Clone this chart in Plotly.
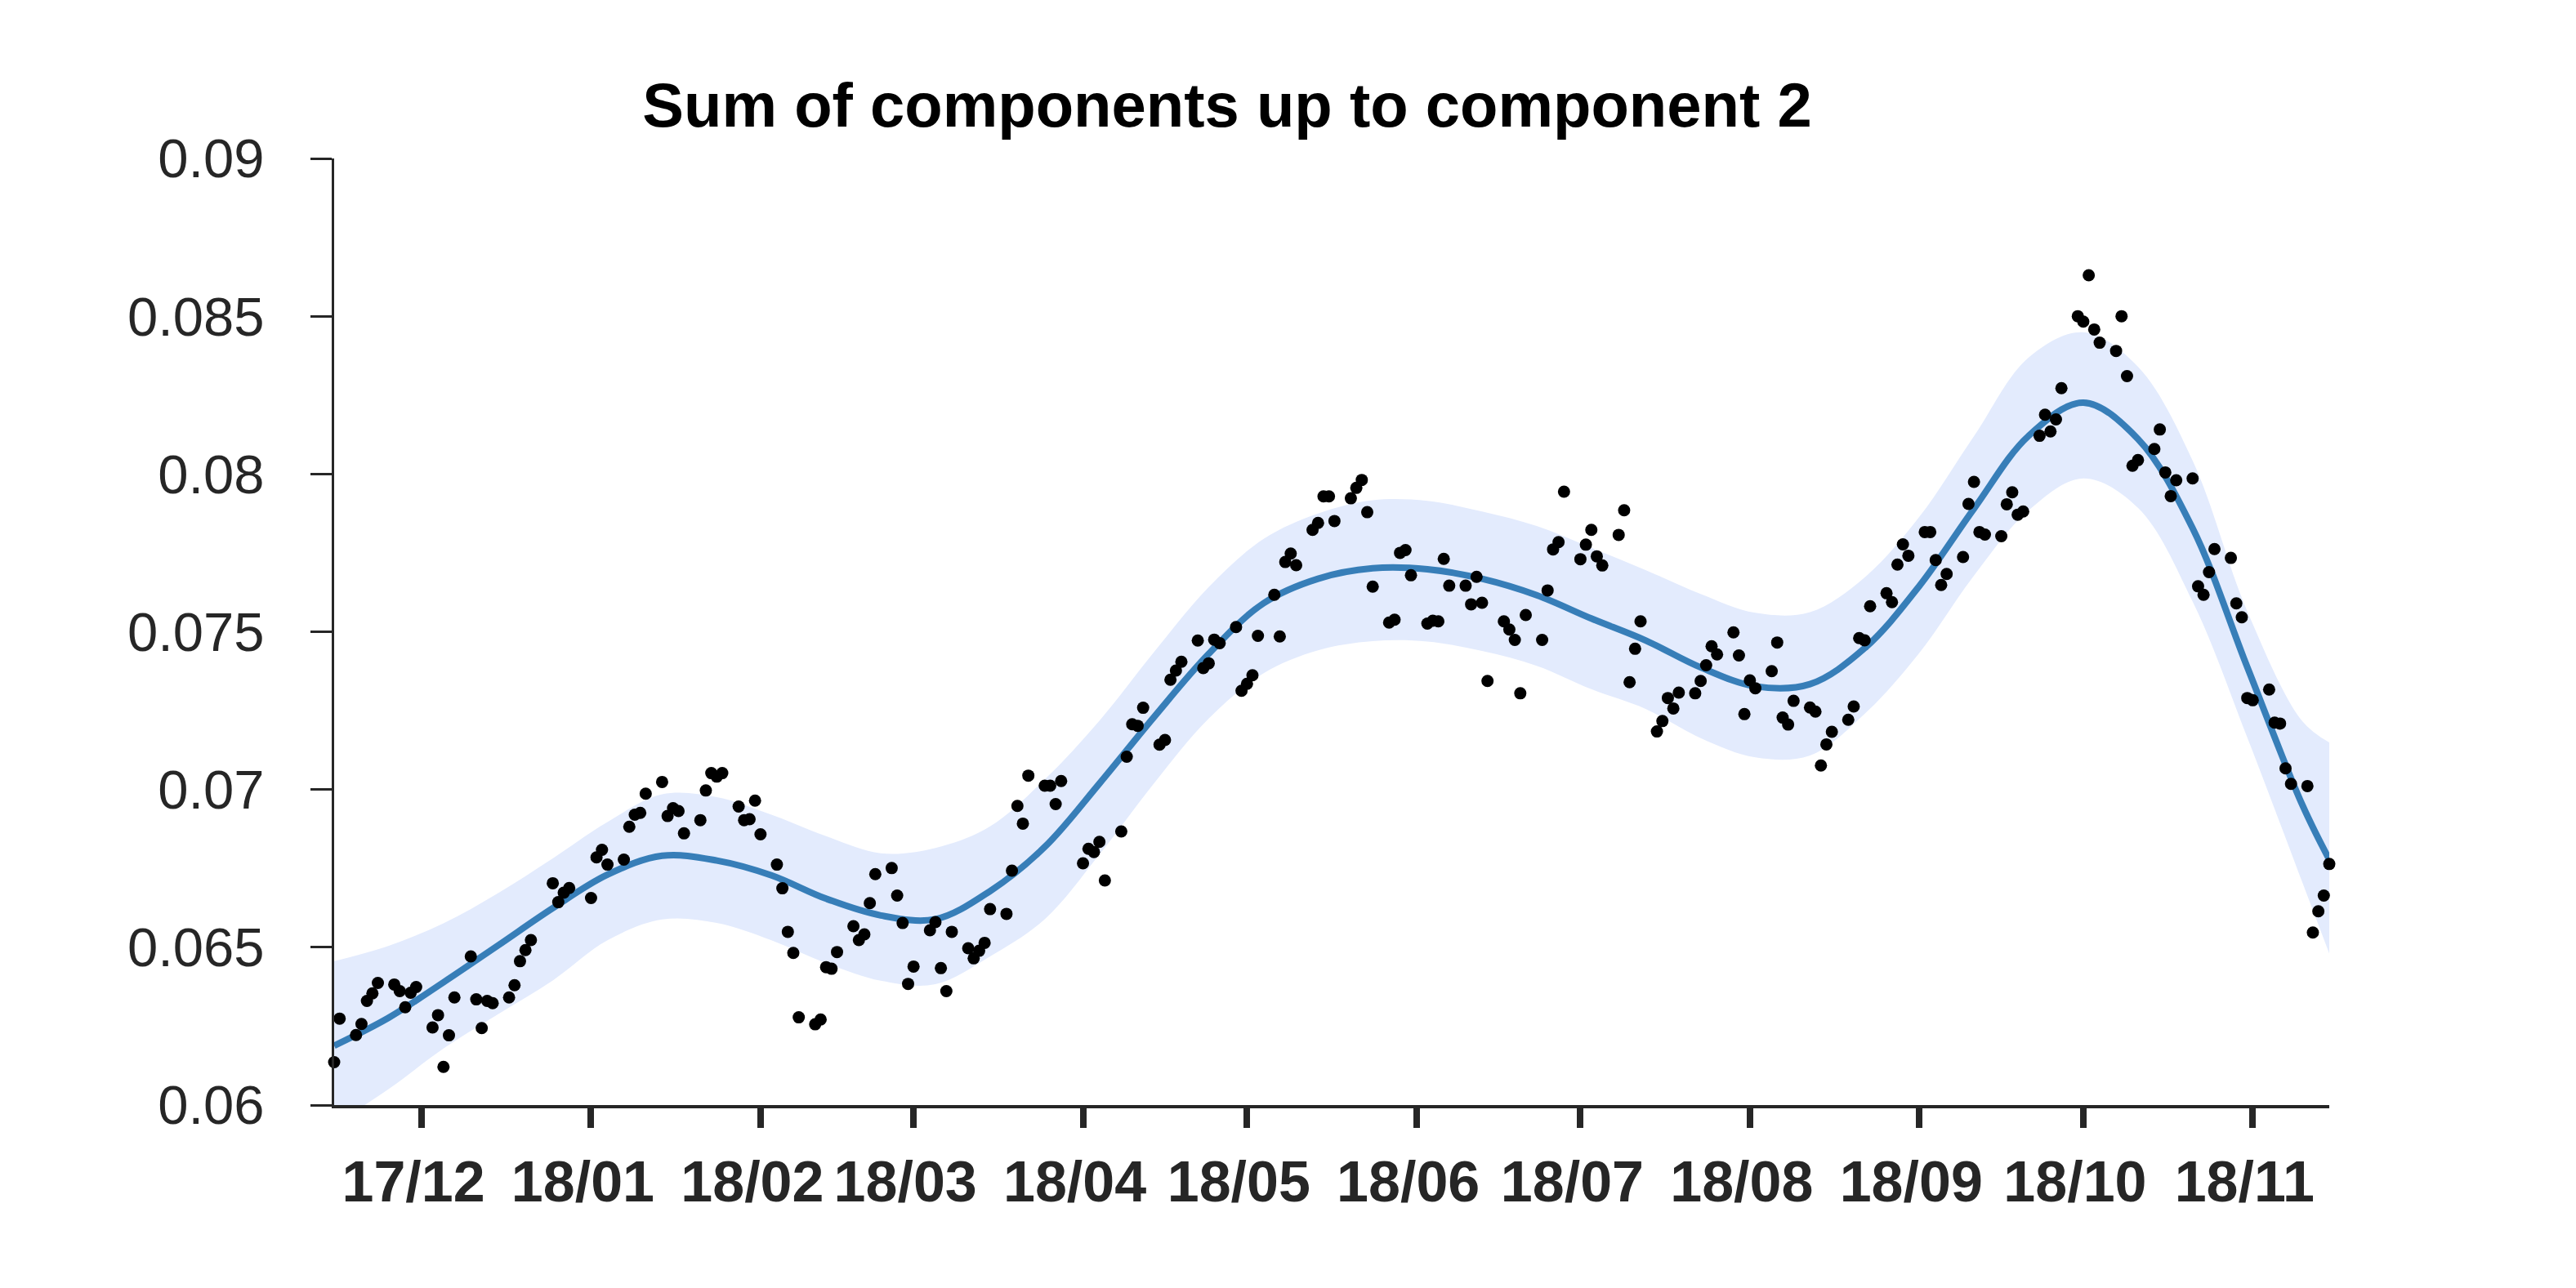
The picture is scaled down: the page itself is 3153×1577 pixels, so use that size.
import pandas as pd
import plotly.graph_objects as go

# ---------------- data ----------------
START_DATE = "2017-11-15"
END_DATE = "2018-11-15"

# observed points: day offset from START_DATE and value
obs_day = [
    0, 1, 4, 5, 6, 7, 8, 11, 12, 13, 14, 15, 18, 19, 20, 21, 22, 25, 26, 27, 28, 29,
    32, 33, 34, 35, 36, 40, 41, 42, 43, 47, 48, 49, 50, 53, 54, 55, 56, 57,
    60, 61, 62, 63, 64, 67, 68, 69, 70, 71, 74, 75, 76, 77, 78, 81, 82, 83, 84, 85,
    88, 89, 90, 91, 92, 95, 96, 97, 98, 99, 102, 103, 104, 105, 106,
    109, 110, 111, 112, 113, 116, 117, 118, 119, 120,
    123, 124, 125, 126, 127, 130, 131, 132, 133, 137, 138, 139, 140, 141,
    144, 145, 146, 147, 148, 151, 152, 153, 154, 155, 158, 159, 160, 161, 162,
    165, 166, 167, 168, 169, 172, 173, 174, 175, 176,
    179, 180, 181, 182, 183, 186, 187, 188, 189, 190, 193, 194, 195, 196, 197,
    200, 201, 202, 203, 204, 207, 208, 209, 210, 211, 214, 215, 216, 217, 218,
    221, 222, 223, 224, 225, 228, 229, 230, 231, 232, 235, 236, 237, 238, 239,
    242, 243, 244, 245, 246, 249, 250, 251, 252, 253, 256, 257, 258, 259, 260,
    263, 264, 265, 266, 267, 270, 271, 272, 273, 274, 277, 278, 279, 280, 281,
    284, 285, 286, 287, 288, 291, 292, 293, 294, 295, 298, 299, 300, 301, 302,
    305, 306, 307, 308, 309, 312, 313, 314, 315, 316, 319, 320, 321, 322, 323,
    326, 327, 328, 329, 330, 333, 334, 335, 336, 337, 340, 341, 342, 343, 344,
    347, 348, 349, 350, 351, 354, 355, 356, 357, 358, 361, 362, 363, 364, 365,
]
obs_val = [
    0.06136, 0.06274, 0.06222, 0.06257, 0.06330, 0.06354, 0.06387, 0.06382, 0.06361, 0.06310,
    0.06356, 0.06374, 0.06246, 0.06285, 0.06121, 0.06221, 0.06341, 0.06471, 0.06335, 0.06244,
    0.06330, 0.06323,
    0.06341, 0.06380, 0.06456, 0.06491, 0.06523, 0.06703, 0.06643, 0.06673, 0.06688, 0.06656,
    0.06785, 0.06809, 0.06762, 0.06778, 0.06882, 0.06920, 0.06926, 0.06987,
    0.07024, 0.06916, 0.06941, 0.06932, 0.06861, 0.06903, 0.06997, 0.07052, 0.07041, 0.07052,
    0.06946, 0.06903, 0.06906, 0.06965, 0.06858, 0.06762, 0.06687, 0.06549, 0.06482, 0.06278,
    0.06256, 0.06271, 0.06437, 0.06432, 0.06485, 0.06567, 0.06523, 0.06541, 0.06640, 0.06732,
    0.06751, 0.06664, 0.06577, 0.06384, 0.06439,
    0.06554, 0.06580, 0.06434, 0.06361, 0.06549, 0.06497, 0.06465, 0.06489, 0.06514, 0.06621,
    0.06606, 0.06743, 0.06948, 0.06892, 0.07044, 0.07012, 0.07012, 0.06954, 0.07027,
    0.06766, 0.06812, 0.06802, 0.06834, 0.06712,
    0.06867, 0.07104, 0.07207, 0.07202, 0.07259, 0.07142, 0.07157, 0.07348, 0.07377, 0.07405,
    0.07472, 0.07385, 0.07400, 0.07475, 0.07464,
    0.07515, 0.07313, 0.07335, 0.07362, 0.07487, 0.07617, 0.07485, 0.07721, 0.07748, 0.07711,
    0.07823, 0.07845, 0.07929, 0.07929, 0.07851, 0.07923, 0.07956, 0.07981, 0.07879, 0.07643,
    0.07529, 0.07538, 0.07750, 0.07759, 0.07679,
    0.07526, 0.07535, 0.07533, 0.07731, 0.07646, 0.07646, 0.07587, 0.07674, 0.07592, 0.07344,
    0.07533, 0.07507, 0.07474, 0.07305, 0.07553,
    0.07474, 0.07631, 0.07761, 0.07784, 0.07944, 0.07730, 0.07776, 0.07823, 0.07739, 0.07710,
    0.07807, 0.07885, 0.07340, 0.07446, 0.07533,
    0.07184, 0.07217, 0.07290, 0.07257, 0.07307, 0.07305, 0.07344, 0.07394, 0.07454, 0.07428,
    0.07498, 0.07425, 0.07239, 0.07346, 0.07321,
    0.07375, 0.07466, 0.07228, 0.07206, 0.07281, 0.07260, 0.07247, 0.07076, 0.07143, 0.07183,
    0.07221, 0.07263, 0.07480, 0.07473, 0.07581,
    0.07622, 0.07594, 0.07713, 0.07777, 0.07741, 0.07816, 0.07816, 0.07727, 0.07648, 0.07683,
    0.07737, 0.07905, 0.07975, 0.07816, 0.07808,
    0.07803, 0.07904, 0.07942, 0.07871, 0.07881, 0.08121, 0.08188, 0.08135, 0.08173, 0.08272,
    0.08500, 0.08483, 0.08630, 0.08458, 0.08416,
    0.08390, 0.08500, 0.08310, 0.08026, 0.08044, 0.08079, 0.08141, 0.08005, 0.07930, 0.07980,
    0.07986, 0.07644, 0.07617, 0.07689, 0.07762,
    0.07734, 0.07590, 0.07546, 0.07290, 0.07283, 0.07317, 0.07212, 0.07209, 0.07067, 0.07018,
    0.07011, 0.06547, 0.06614, 0.06664, 0.06764,
]

# fitted component sum and its confidence band, read every 10 days
fit_day = [0, 10, 20, 30, 40, 50, 60, 70, 80, 90, 100, 110, 120, 130, 140, 150, 160, 170,
           180, 190, 200, 210, 220, 230, 240, 250, 260, 270, 280, 290, 300, 310, 320, 330,
           340, 350, 360, 365]
fit_mid = [0.06188, 0.06277, 0.06389, 0.06506, 0.06624, 0.06730, 0.06790, 0.06775, 0.06728,
           0.06654, 0.06601, 0.06589, 0.06678, 0.06818, 0.07019, 0.07230, 0.07430, 0.07590,
           0.07668, 0.07701, 0.07698, 0.07668, 0.07616, 0.07542, 0.07472, 0.07387, 0.07327,
           0.07334, 0.07448, 0.07645, 0.07890, 0.08121, 0.08226, 0.08111, 0.07828, 0.07388,
           0.06954, 0.06778]
fit_upper = [0.06456, 0.06505, 0.06576, 0.06672, 0.06782, 0.06897, 0.06985, 0.06976, 0.06920,
             0.06852, 0.06798, 0.06815, 0.06883, 0.07032, 0.07218, 0.07436, 0.07642, 0.07794,
             0.07875, 0.07917, 0.07915, 0.07881, 0.07835, 0.07766, 0.07695, 0.07620, 0.07560,
             0.07562, 0.07672, 0.07864, 0.08120, 0.08369, 0.08449, 0.08340, 0.08042, 0.07565,
             0.07218, 0.07149]
fit_lower = [0.05938, 0.06051, 0.06179, 0.06288, 0.06395, 0.06522, 0.06588, 0.06577, 0.06522,
             0.06450, 0.06394, 0.06383, 0.06471, 0.06589, 0.06794, 0.07020, 0.07225, 0.07368,
             0.07441, 0.07470, 0.07469, 0.07439, 0.07392, 0.07318, 0.07255, 0.07163, 0.07102,
             0.07108, 0.07240, 0.07433, 0.07678, 0.07885, 0.07986, 0.07893, 0.07596, 0.07165,
             0.06709, 0.06480]

x_tick_dates = ["2017-12-01", "2018-01-01", "2018-02-01", "2018-03-01", "2018-04-01",
                "2018-05-01", "2018-06-01", "2018-07-01", "2018-08-01", "2018-09-01",
                "2018-10-01", "2018-11-01"]
x_tick_labels = ["17/12", "18/01", "18/02", "18/03", "18/04", "18/05", "18/06",
                 "18/07", "18/08", "18/09", "18/10", "18/11"]
y_tick_vals = [0.06, 0.065, 0.07, 0.075, 0.08, 0.085, 0.09]
y_tick_labels = ["0.06", "0.065", "0.07", "0.075", "0.08", "0.085", "0.09"]

TITLE = "Sum of components up to component 2"

# ---------------- figure ----------------
start = pd.Timestamp(START_DATE)
obs_x = [start + pd.Timedelta(days=d) for d in obs_day]
fit_x = [start + pd.Timedelta(days=d) for d in fit_day]

FONT = "Liberation Sans, Arial, Helvetica, sans-serif"
AX = "#262626"
BAND = "rgb(227,235,253)"
LINE = "#377EB8"

fig = go.Figure()
fig.add_trace(go.Scatter(x=fit_x, y=fit_upper, mode="lines",
                         line=dict(width=0, shape="spline", color=BAND),
                         hoverinfo="skip", showlegend=False))
fig.add_trace(go.Scatter(x=fit_x, y=fit_lower, mode="lines",
                         line=dict(width=0, shape="spline", color=BAND),
                         fill="tonexty", fillcolor=BAND,
                         hoverinfo="skip", showlegend=False))
fig.add_trace(go.Scatter(x=fit_x, y=fit_mid, mode="lines",
                         line=dict(width=8, shape="spline", color=LINE),
                         showlegend=False))
fig.add_trace(go.Scatter(x=obs_x, y=obs_val, mode="markers",
                         marker=dict(size=15, color="black", line=dict(width=0)),
                         cliponaxis=False, showlegend=False))

fig.update_layout(
    width=3153, height=1577,
    margin=dict(l=409, r=302, t=194, b=224, pad=0),
    paper_bgcolor="white", plot_bgcolor="white",
    font=dict(family=FONT, color=AX),
    title=dict(text=TITLE, x=1502 / 3153, xref="container", xanchor="center",
               y=1 - 128 / 1577, yref="container", yanchor="middle",
               font=dict(family=FONT, size=76, color="black", weight="bold")),
    showlegend=False,
)
fig.update_xaxes(
    range=[START_DATE, END_DATE],
    tickvals=x_tick_dates, ticktext=x_tick_labels,
    ticks="outside", ticklen=24, tickwidth=8, tickcolor=AX,
    showline=True, linecolor=AX, linewidth=4,
    showgrid=False, zeroline=False,
    tickfont=dict(family=FONT, size=70, color=AX, weight="bold"),
    ticklabelstandoff=6, ticklabelshift=-10,
)
fig.update_yaxes(
    range=[0.06, 0.09],
    tickvals=y_tick_vals, ticktext=y_tick_labels,
    ticks="outside", ticklen=26, tickwidth=3, tickcolor=AX,
    showline=True, linecolor=AX, linewidth=3,
    showgrid=False, zeroline=False,
    tickfont=dict(family=FONT, size=67, color=AX),
    ticklabelstandoff=43,
)

fig.write_html("out.html")
